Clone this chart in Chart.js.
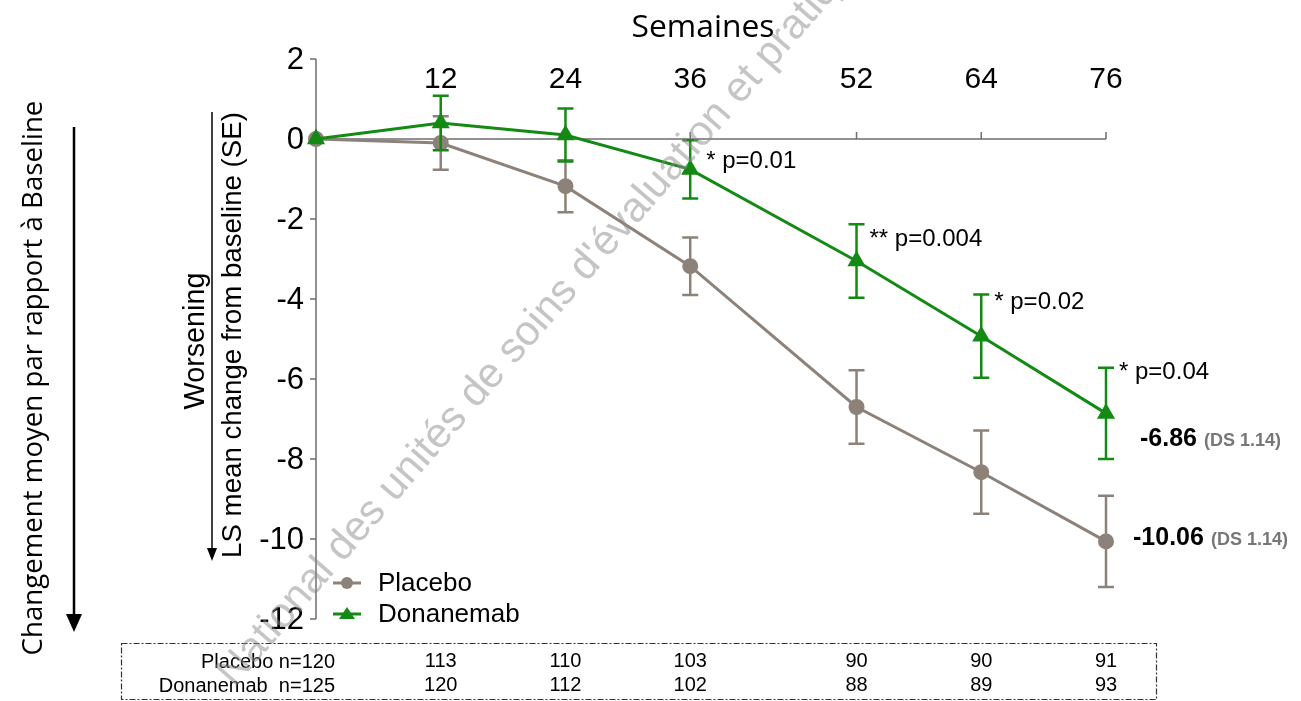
<!DOCTYPE html>
<html lang="fr">
<head>
<meta charset="UTF-8">
<title>Semaines - LS mean change</title>
<script src="https://cdn.jsdelivr.net/npm/chart.js@4"></script>
<style>
  * { margin: 0; padding: 0; box-sizing: border-box; }
  body { background: #fff; width: 1301px; height: 701px; overflow: hidden; }
  #wrap { position: relative; width: 1301px; height: 701px; }
</style>
</head>
<body>
<div id="wrap"><canvas id="chart"></canvas></div>
<script>
// data
const weeks = [0, 12, 24, 36, 52, 64, 76];
const weekTicks = [12, 24, 36, 52, 64, 76];
const yTicks = [2, 0, -2, -4, -6, -8, -10, -12];

const placeboMean = [0, -0.1, -1.18, -3.18, -6.7, -8.33, -10.06];
const placeboSE = [0, 0.67, 0.65, 0.72, 0.92, 1.04, 1.14];
const donaMean = [0, 0.4, 0.1, -0.76, -3.05, -4.93, -6.86];
const donaSE = [0, 0.68, 0.66, 0.73, 0.92, 1.04, 1.14];

const placeboN = [120, 113, 110, 103, 90, 90, 91];
const donaN = [125, 120, 112, 102, 88, 89, 93];

const pWeeks = [36, 52, 64, 76];
const pLabels = ['* p=0.01', '** p=0.004', '* p=0.02', '* p=0.04'];

const GREEN = '#138a13';
const GREY = '#8c8279';
const SANS = '"Liberation Sans", Arial, sans-serif';
const CALIBRI = '"Open Sans", "Noto Sans", sans-serif';

// text sized so that it spans a given length
function fitText(ctx, text, weight, family, target) {
  ctx.font = `${weight} 20px ${family}`;
  const w = ctx.measureText(text).width;
  const size = 20 * target / w;
  ctx.font = `${weight} ${size.toFixed(2)}px ${family}`;
}

const errorBars = {
  id: 'errorBars',
  beforeDatasetDraw(chart, args) {
    const ds = chart.data.datasets[args.index];
    const { ctx, scales: { x, y } } = chart;
    ctx.save();
    ctx.strokeStyle = ds.borderColor;
    ctx.lineWidth = 2.5;
    ds.data.forEach((pt, i) => {
      const se = ds.errors[i];
      if (!se) return;
      const px = x.getPixelForValue(pt.x);
      const top = y.getPixelForValue(pt.y + se);
      const bot = y.getPixelForValue(pt.y - se);
      ctx.beginPath();
      ctx.moveTo(px, top); ctx.lineTo(px, bot);
      ctx.moveTo(px - 8, top); ctx.lineTo(px + 8, top);
      ctx.moveTo(px - 8, bot); ctx.lineTo(px + 8, bot);
      ctx.stroke();
    });
    ctx.restore();
  }
};

const axesAndText = {
  id: 'axesAndText',
  beforeDatasetsDraw(chart) {
    const { ctx, scales: { x, y } } = chart;
    const x0 = x.getPixelForValue(0);
    const y0 = y.getPixelForValue(0);
    ctx.save();
    ctx.strokeStyle = '#6e6e6e';
    ctx.lineWidth = 1.5;

    // y axis
    ctx.beginPath();
    ctx.moveTo(x0, y.getPixelForValue(yTicks[0]));
    ctx.lineTo(x0, y.getPixelForValue(yTicks[yTicks.length - 1]));
    yTicks.forEach(v => {
      const py = y.getPixelForValue(v);
      ctx.moveTo(x0 - 6, py); ctx.lineTo(x0, py);
    });
    // x axis on the zero line, ticks pointing up
    ctx.moveTo(x0, y0);
    ctx.lineTo(x.getPixelForValue(weekTicks[weekTicks.length - 1]), y0);
    weekTicks.forEach(w => {
      const px = x.getPixelForValue(w);
      ctx.moveTo(px, y0 - 7); ctx.lineTo(px, y0);
    });
    ctx.stroke();

    ctx.fillStyle = '#000';
    ctx.font = `31px ${SANS}`;
    ctx.textAlign = 'right';
    ctx.textBaseline = 'middle';
    yTicks.forEach(v => {
      ctx.fillText(String(v), x0 - 12, y.getPixelForValue(v) + 1);
    });
    ctx.font = `30px ${SANS}`;
    ctx.textAlign = 'center';
    weekTicks.forEach(w => {
      ctx.fillText(String(w), x.getPixelForValue(w), 80);
    });
    ctx.restore();
  },
  afterDraw(chart) {
    const { ctx, scales: { x, y } } = chart;
    ctx.save();
    ctx.fillStyle = '#000';
    ctx.textBaseline = 'middle';

    // title
    ctx.textAlign = 'center';
    fitText(ctx, 'Semaines', 'normal', CALIBRI, 143);
    ctx.fillText('Semaines', 703, 28);

    // left rotated labels
    ctx.save();
    ctx.translate(34, 378);
    ctx.rotate(-Math.PI / 2);
    fitText(ctx, 'Changement moyen par rapport à Baseline', 'normal', CALIBRI, 555);
    ctx.fillText('Changement moyen par rapport à Baseline', 0, 0);
    ctx.restore();

    ctx.save();
    ctx.translate(196, 341);
    ctx.rotate(-Math.PI / 2);
    fitText(ctx, 'Worsening', 'normal', SANS, 137);
    ctx.fillText('Worsening', 0, 0);
    ctx.restore();

    ctx.save();
    ctx.translate(233, 335);
    ctx.rotate(-Math.PI / 2);
    fitText(ctx, 'LS mean change from baseline (SE)', 'normal', SANS, 446);
    ctx.fillText('LS mean change from baseline (SE)', 0, 0);
    ctx.restore();

    // arrows
    ctx.strokeStyle = '#000';
    ctx.lineWidth = 2.5;
    ctx.beginPath(); ctx.moveTo(74, 127); ctx.lineTo(74, 618); ctx.stroke();
    ctx.beginPath(); ctx.moveTo(66, 614); ctx.lineTo(82, 614); ctx.lineTo(74, 632); ctx.closePath(); ctx.fill();
    ctx.lineWidth = 1.5;
    ctx.beginPath(); ctx.moveTo(212, 112); ctx.lineTo(212, 552); ctx.stroke();
    ctx.beginPath(); ctx.moveTo(207, 548); ctx.lineTo(217, 548); ctx.lineTo(212, 561); ctx.closePath(); ctx.fill();

    // p values
    ctx.textAlign = 'left';
    ctx.font = `24px ${SANS}`;
    pWeeks.forEach((w, k) => {
      const i = weeks.indexOf(w);
      const px = x.getPixelForValue(w) + (k === 0 ? 16 : 13);
      const top = y.getPixelForValue(donaMean[i] + donaSE[i]);
      const offs = [21, 15, 8, 5];
      ctx.fillText(pLabels[k], px, top + offs[k]);
    });

    // end values
    const last = weeks.length - 1;
    const endLabels = [
      { v: donaMean[last], se: donaSE[last], x: 1140, y: 439 },
      { v: placeboMean[last], se: placeboSE[last], x: 1133, y: 538 }
    ];
    endLabels.forEach(l => {
      ctx.font = `bold 25px ${SANS}`;
      ctx.fillStyle = '#000';
      const t = l.v.toFixed(2);
      ctx.fillText(t, l.x, l.y);
      const w = ctx.measureText(t).width;
      ctx.font = `bold 18px ${SANS}`;
      ctx.fillStyle = '#777';
      ctx.fillText(`(DS ${l.se.toFixed(2)})`, l.x + w + 7, l.y + 2);
    });

    // legend
    const leg = [
      { label: 'Placebo', color: GREY, style: 'circle', y: 583 },
      { label: 'Donanemab', color: GREEN, style: 'triangle', y: 614 }
    ];
    leg.forEach(l => {
      ctx.strokeStyle = l.color;
      ctx.fillStyle = l.color;
      ctx.lineWidth = 3;
      ctx.beginPath(); ctx.moveTo(333, l.y); ctx.lineTo(361, l.y); ctx.stroke();
      if (l.style === 'circle') {
        ctx.beginPath(); ctx.arc(347, l.y, 6, 0, Math.PI * 2); ctx.fill();
      } else {
        ctx.beginPath(); ctx.moveTo(347, l.y - 7); ctx.lineTo(355, l.y + 5); ctx.lineTo(339, l.y + 5); ctx.closePath(); ctx.fill();
      }
      ctx.fillStyle = '#000';
      ctx.font = `26px ${SANS}`;
      ctx.fillText(l.label, 378, l.y + 1);
    });

    // N at risk table
    ctx.strokeStyle = '#333';
    ctx.lineWidth = 1.2;
    ctx.setLineDash([6, 2, 2, 2]);
    ctx.strokeRect(121.5, 643.5, 1035, 56);
    ctx.setLineDash([]);
    ctx.fillStyle = '#000';
    ctx.font = `20px ${SANS}`;
    ctx.textAlign = 'right';
    ctx.fillText(`Placebo n=${placeboN[0]}`, 335, 662);
    ctx.fillText(`Donanemab  n=${donaN[0]}`, 335, 686);
    ctx.textAlign = 'center';
    weeks.forEach((w, i) => {
      if (i === 0) return;
      const px = x.getPixelForValue(w);
      ctx.fillText(String(placeboN[i]), px, 661);
      ctx.fillText(String(donaN[i]), px, 685);
    });

    // watermark
    ctx.save();
    ctx.fillStyle = 'rgba(140,140,140,0.5)';
    ctx.font = `42px ${SANS}`;
    ctx.textAlign = 'left';
    ctx.textBaseline = 'alphabetic';
    const pre = 'National des ';
    const off = ctx.measureText(pre).width;
    ctx.translate(395, 503);
    ctx.rotate(-49 * Math.PI / 180);
    ctx.fillText("National des unités de soins d'évaluation et pratiques", -off, 0);
    ctx.restore();

    ctx.restore();
  }
};

const ctx = document.getElementById('chart').getContext('2d');
new Chart(ctx, {
  type: 'line',
  data: {
    datasets: [
      {
        label: 'Placebo',
        data: weeks.map((w, i) => ({ x: w, y: placeboMean[i] })),
        errors: placeboSE,
        borderColor: GREY,
        backgroundColor: GREY,
        borderWidth: 3,
        pointStyle: 'circle',
        pointRadius: 6.5,
        order: 2
      },
      {
        label: 'Donanemab',
        data: weeks.map((w, i) => ({ x: w, y: donaMean[i] })),
        errors: donaSE,
        borderColor: GREEN,
        backgroundColor: GREEN,
        borderWidth: 3,
        pointStyle: 'triangle',
        pointRadius: 7.5,
        order: 1
      }
    ]
  },
  options: {
    responsive: true,
    maintainAspectRatio: false,
    animation: false,
    clip: false,
    layout: { padding: { left: 316, right: 195, top: 59, bottom: 82 } },
    scales: {
      x: { type: 'linear', min: 0, max: 76, display: false },
      y: { type: 'linear', min: -12, max: 2, display: false }
    },
    plugins: {
      legend: { display: false },
      tooltip: { enabled: false }
    }
  },
  plugins: [errorBars, axesAndText]
});
</script>
</body>
</html>
